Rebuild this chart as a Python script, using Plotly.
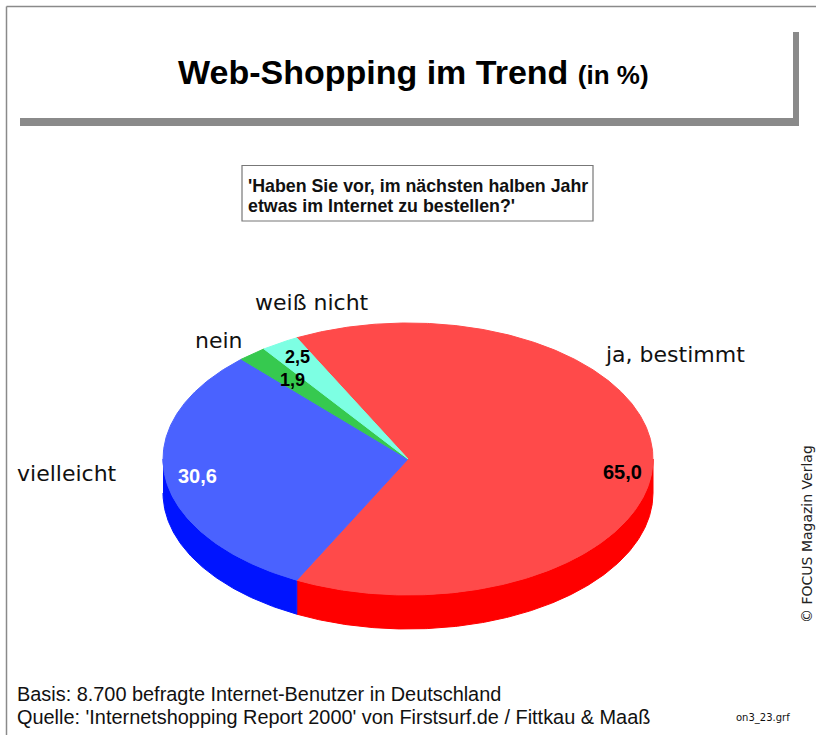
import numpy as np
import plotly.graph_objects as go

# ---- data -------------------------------------------------------------
categories = ["ja, bestimmt", "vielleicht", "nein", "weiß nicht"]
shares = [65.0, 30.6, 1.9, 2.5]

title_main = "Web-Shopping im Trend"
title_unit = "(in %)"
question_lines = ["'Haben Sie vor, im nächsten halben Jahr",
                  "etwas im Internet zu bestellen?'"]
footer_lines = ["Basis: 8.700 befragte Internet-Benutzer in Deutschland",
                "Quelle: 'Internetshopping Report 2000' von Firstsurf.de / Fittkau & Maaß"]
file_tag = "on3_23.grf"
credit = "© FOCUS Magazin Verlag"

# ---- styling / layout -------------------------------------------------
top_colors = ["#FF4A4A", "#4A62FF", "#36C94F", "#7DFFE3"]
side_colors = ["#FF0000", "#0014FF", "#1FA838", "#40E0C0"]
value_colors = ["black", "white", "black", "black"]
value_sizes = [20, 20, 18, 18]
value_pos = [(622, 472), (197, 476), (292, 380), (297, 357)]
cat_pos = [(675, 354), (67, 473), (219, 340), (312, 302)]

W, H = 816, 735
CX, CY = 408, 459      # centre of the pie's top face
RX, RY = 245, 136      # radii of the tilted (elliptical) pie
DEPTH = 34             # thickness of the pie
START = 117.0          # parametric angle where the first slice starts (clockwise)

GRAY = "#8a8a8a"
LABEL_FONT = "DejaVu Sans"
TEXT_FONT = "Liberation Sans, Arial"


def ellipse(t_deg, dy=0.0):
    t = np.radians(t_deg)
    return CX + RX * np.cos(t), CY - RY * np.sin(t) + dy


total = float(sum(shares))
bounds = START - 360.0 * np.concatenate([[0.0], np.cumsum(shares)]) / total

fig = go.Figure()

# side walls (only the front half, parametric angles -180..0, is visible)
for i in range(len(shares)):
    t_start, t_end = bounds[i], bounds[i + 1]
    a, b = max(t_end, -180.0), min(t_start, 0.0)
    if b <= a:
        continue
    n = max(int((b - a) * 2), 4)
    ts = np.linspace(a, b, n)
    xt, yt = ellipse(ts)
    xb, yb = ellipse(ts[::-1], DEPTH)
    fig.add_trace(go.Scatter(
        x=np.concatenate([xt, xb]), y=np.concatenate([yt, yb]),
        mode="lines", fill="toself", fillcolor=side_colors[i],
        line=dict(color=side_colors[i], width=1),
        hoverinfo="skip", showlegend=False))

# top faces of the slices
for i in range(len(shares)):
    t_start, t_end = bounds[i], bounds[i + 1]
    n = max(int(abs(t_start - t_end) * 2), 4)
    ts = np.linspace(t_start, t_end, n)
    xa, ya = ellipse(ts)
    fig.add_trace(go.Scatter(
        x=np.concatenate([[CX], xa, [CX]]), y=np.concatenate([[CY], ya, [CY]]),
        mode="lines", fill="toself", fillcolor=top_colors[i],
        line=dict(color=top_colors[i], width=1),
        hoverinfo="skip", showlegend=False, name=categories[i]))

ann = []
# slice values
for v, (x, y), c, s in zip(shares, value_pos, value_colors, value_sizes):
    ann.append(dict(x=x, y=y, text=f"{v:.1f}".replace(".", ","), showarrow=False,
                    font=dict(family=TEXT_FONT, size=s, color=c, weight="bold"),
                    xanchor="center", yanchor="middle"))
# category names
for name, (x, y) in zip(categories, cat_pos):
    ann.append(dict(x=x, y=y, text=name, showarrow=False,
                    font=dict(family=LABEL_FONT, size=22, color="#111"),
                    xanchor="center", yanchor="middle"))

# title
ann.append(dict(x=413, y=72, showarrow=False, xanchor="center", yanchor="middle",
                text=f"{title_main} <span style='font-size:26px'>{title_unit}</span>",
                font=dict(family=TEXT_FONT, size=34, color="black", weight="bold")))

# question
for k, line in enumerate(question_lines):
    ann.append(dict(x=246, y=186 + 20 * k, text=line, showarrow=False,
                    xanchor="left", yanchor="middle",
                    font=dict(family=TEXT_FONT, size=17.8, color="#111", weight="bold")))

# footer
for k, line in enumerate(footer_lines):
    ann.append(dict(x=15, y=694 + 23 * k, text=line, showarrow=False,
                    xanchor="left", yanchor="middle",
                    font=dict(family=TEXT_FONT, size=19.9, color="#111")))
ann.append(dict(x=792, y=718, text=file_tag, showarrow=False, xanchor="right",
                yanchor="middle", font=dict(family=LABEL_FONT, size=10, color="#111")))
ann.append(dict(x=807, y=534, text=credit, showarrow=False, textangle=-90,
                xanchor="center", yanchor="middle",
                font=dict(family=LABEL_FONT, size=14, color="#222")))

shapes = [
    # page frame (top and left edges)
    dict(type="line", x0=6.5, y0=6.5, x1=W, y1=6.5, line=dict(color=GRAY, width=1.5)),
    dict(type="line", x0=6.5, y0=6.5, x1=6.5, y1=H, line=dict(color=GRAY, width=1.5)),
    # title box shadow
    dict(type="rect", x0=20, y0=118, x1=799, y1=126, line=dict(width=0), fillcolor=GRAY),
    dict(type="rect", x0=793, y0=32, x1=799, y1=126, line=dict(width=0), fillcolor=GRAY),
    # question box
    dict(type="rect", x0=242, y0=165.5, x1=593, y1=221, line=dict(color="#777", width=1.2),
         fillcolor="rgba(0,0,0,0)"),
]

fig.update_layout(
    width=W, height=H, autosize=False,
    margin=dict(l=0, r=0, t=0, b=0),
    paper_bgcolor="white", plot_bgcolor="white",
    xaxis=dict(range=[0, W], visible=False, fixedrange=True),
    yaxis=dict(range=[H, 0], visible=False, fixedrange=True),
    annotations=ann, shapes=shapes, showlegend=False,
)

fig.write_html("out.html", config={"displayModeBar": False})
